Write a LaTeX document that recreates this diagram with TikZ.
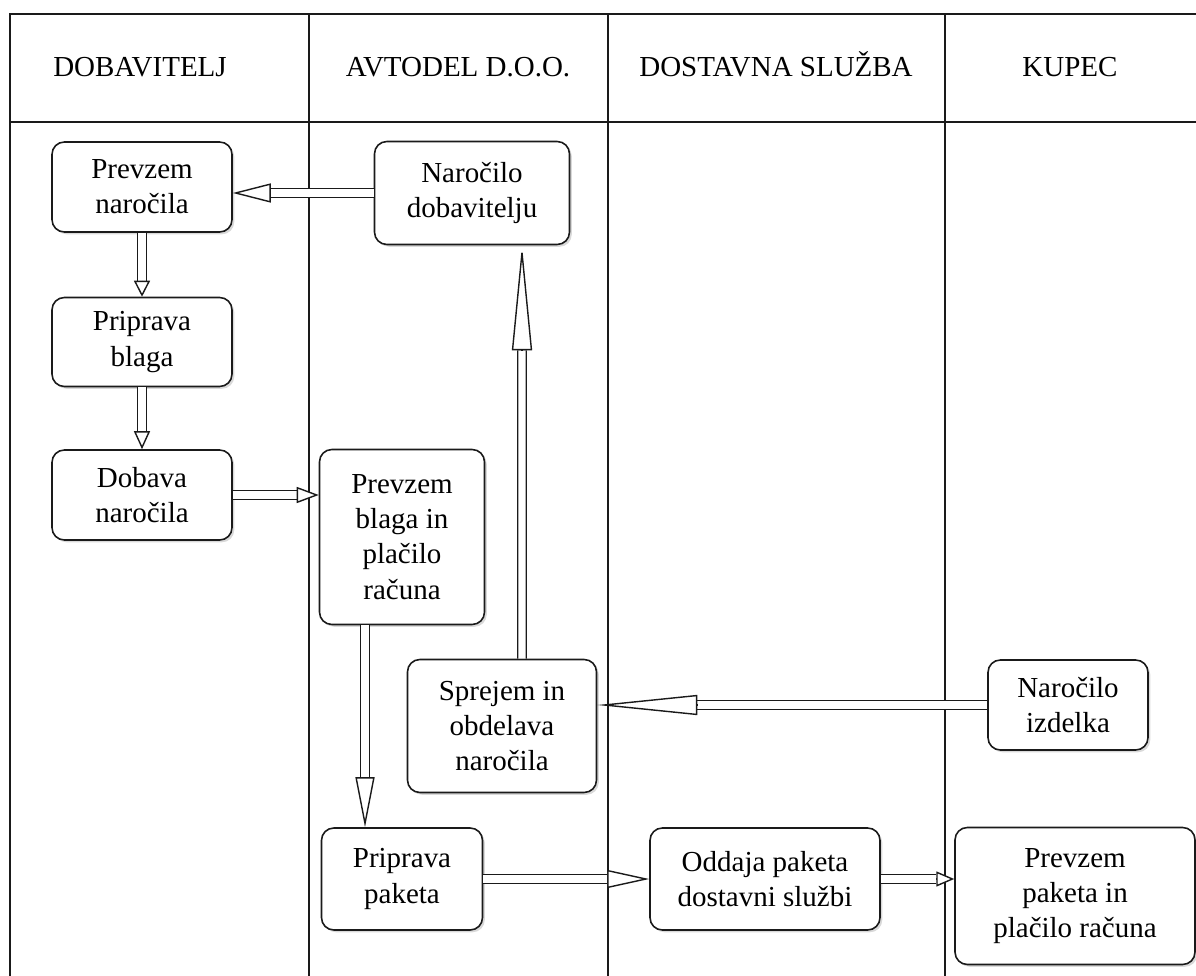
\documentclass[tikz,border=0pt]{standalone}
\usepackage{fontspec}
\setmainfont{Liberation Serif}
\usepackage{tikz}
\usetikzlibrary{arrows.meta,calc,shadows}
\definecolor{laneline}{HTML}{1A1A1A}
\tikzset{
  act/.style   ={rounded corners=7pt,draw=laneline,line width=0.9pt,fill=white,
                 inner sep=2pt,align=center,
                 drop shadow={shadow xshift=1.3pt,shadow yshift=-1.3pt,opacity=0.3}},
  lanehead/.style={anchor=base},
  lane/.style  ={draw=laneline,line width=0.9pt},
  shaft/.style ={draw=laneline,line width=0.8pt,double=white,double distance=4pt},
  tipline/.style={draw=laneline,line width=0.8pt}
}
% double shaft with one open head: from, to, head length, head width
\newcommand\flowarr[4]{%
  \draw[shaft,shorten >=#3] (#1) -- (#2);
  \draw[tipline,-{Triangle[open,fill=white,length=#3,width=#4]}] ($(#2)!#3!(#1)$) -- (#2);
}

\begin{document}
\begin{tikzpicture}[x=0.02cm,y=-0.02cm,font=\fontsize{16.5}{20}\selectfont]
    \useasboundingbox (0,0) rectangle (1196,976);
    % lanes
    \draw[lane] (1196,14) -- (10,14) -- (10,976);
    \draw[lane] (10,122) -- (1196,122);
    \foreach \lx in {309,608,945}
      \draw[lane] (\lx,14) -- (\lx,976);
    \node[lanehead] (hDob)  at (140,77)  {DOBAVITELJ};
    \node[lanehead] (hAvt)  at (458,77)  {AVTODEL D.O.O.};
    \node[lanehead] (hDost) at (776,77)  {DOSTAVNA SLUŽBA};
    \node[lanehead] (hKup)  at (1070,77) {KUPEC};
    % steps
    \node[act,minimum width=3.6cm,minimum height=1.8cm] (prevNar) at (142,187)
      {Prevzem\\naročila};
    \node[act,minimum width=3.9cm,minimum height=2.06cm] (narDob) at (472,193)
      {Naročilo\\dobavitelju};
    \node[act,minimum width=3.6cm,minimum height=1.78cm] (pripBlaga) at (142,342)
      {Priprava\\blaga};
    \node[act,minimum width=3.6cm,minimum height=1.8cm] (dobNar) at (142,495)
      {Dobava\\naročila};
    \node[act,minimum width=3.3cm,minimum height=3.5cm] (prevBlaga) at (402,537)
      {Prevzem\\blaga in\\plačilo\\računa};
    \node[act,minimum width=3.78cm,minimum height=2.66cm] (sprejem) at (502,726)
      {Sprejem in\\obdelava\\naročila};
    \node[act,minimum width=3.2cm,minimum height=1.8cm] (narIzd) at (1068,705)
      {Naročilo\\izdelka};
    \node[act,minimum width=3.22cm,minimum height=2.04cm] (pripPak) at (402,879)
      {Priprava\\paketa};
    \node[act,minimum width=4.6cm,minimum height=2.04cm] (oddaja) at (765,879)
      {Oddaja paketa\\dostavni službi};
    \node[act,minimum width=4.8cm,minimum height=2.74cm] (prevPak) at (1075,896)
      {Prevzem\\paketa in\\plačilo računa};
    % flows
    \flowarr{narDob.west}{narDob.west -| prevNar.east}{0.76cm}{0.38cm}
    \flowarr{prevNar.south}{pripBlaga.north}{0.32cm}{0.32cm}
    \flowarr{pripBlaga.south}{dobNar.north}{0.36cm}{0.32cm}
    \flowarr{dobNar.east}{dobNar.east -| prevBlaga.west}{0.44cm}{0.32cm}
    \flowarr{[xshift=-0.74cm]prevBlaga.south}{[xshift=-0.74cm]pripPak.north}{1cm}{0.38cm}
    \flowarr{[xshift=0.4cm]sprejem.north}{[xshift=1cm]narDob.south}{2.1cm}{0.4cm}
    \flowarr{narIzd.west}{narIzd.west -| sprejem.east}{2cm}{0.4cm}
    \flowarr{pripPak.east}{oddaja.west}{0.84cm}{0.36cm}
    \flowarr{oddaja.east}{oddaja.east -| prevPak.west}{0.36cm}{0.3cm}
  \end{tikzpicture}
\end{document}
